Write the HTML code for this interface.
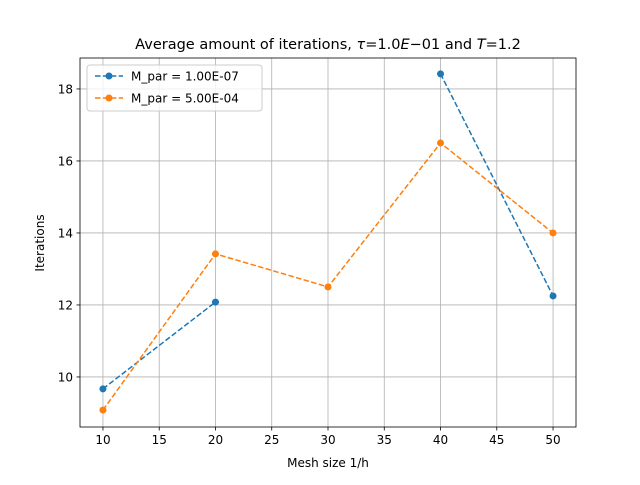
<!DOCTYPE html>
<html><head><meta charset="utf-8"><style>
body{margin:0;background:#fff;font-family:"Liberation Sans","DejaVu Sans",sans-serif;}
svg text{font-family:"DejaVu Sans","Liberation Sans",sans-serif;}
</style></head><body>
<svg id="chart" width="640" height="480" xmlns="http://www.w3.org/2000/svg">
<rect width="640" height="480" fill="#fff"/>
<g id="grid"></g>
<g id="ticks"></g>
<g id="series"></g>
<rect x="80" y="58" width="496" height="369" fill="none" stroke="#000" stroke-width="0.8"/>
<text x="328" y="49" text-anchor="middle" font-size="14.5">Average amount of iterations, <tspan font-style="italic">τ</tspan>=1.0<tspan font-style="italic">E</tspan>−01 and <tspan font-style="italic">T</tspan>=1.2</text>
<text x="328" y="467" text-anchor="middle" font-size="12">Mesh size 1/h</text>
<text transform="translate(44,243) rotate(-90)" text-anchor="middle" font-size="12">Iterations</text>
<g>
<rect x="87" y="65" width="175" height="46" rx="3" fill="#fff" fill-opacity="0.8" stroke="#ccc"/>
<line x1="95" y1="76" x2="123" y2="76" stroke="#1f77b4" stroke-width="1.5" stroke-dasharray="5.5,2.4"/>
<circle cx="109" cy="76" r="3.5" fill="#1f77b4"/>
<text x="131" y="80.5" font-size="12">M_par = 1.00E-07</text>
<line x1="95" y1="98" x2="123" y2="98" stroke="#ff7f0e" stroke-width="1.5" stroke-dasharray="5.5,2.4"/>
<circle cx="109" cy="98" r="3.5" fill="#ff7f0e"/>
<text x="131" y="102.5" font-size="12">M_par = 5.00E-04</text>
</g>
</svg>
<script>
const categories=[10,20,30,40,50];
const seriesA=[9.67,12.08,null,18.42,12.25];
const seriesB=[9.08,13.42,12.5,16.5,14.0];
const xTicks=[10,15,20,25,30,35,40,45,50];
const yTicks=[10,12,14,16,18];
const NS="http://www.w3.org/2000/svg";
const L=80,R=576,T=58,B=427,xmin=7.96,xmax=52.04,ymin=8.61,ymax=18.86;
const X=v=>L+(v-xmin)/(xmax-xmin)*(R-L);
const Y=v=>B-(v-ymin)/(ymax-ymin)*(B-T);
function mk(tag,attrs,parent){const e=document.createElementNS(NS,tag);for(const k in attrs)e.setAttribute(k,attrs[k]);parent.appendChild(e);return e;}
const grid=document.getElementById('grid'),ticks=document.getElementById('ticks'),ser=document.getElementById('series');
xTicks.forEach(t=>{const x=X(t);
mk('line',{x1:x,x2:x,y1:T,y2:B,stroke:'#b0b0b0','stroke-width':0.8},grid);
mk('line',{x1:x,x2:x,y1:B,y2:B+3.5,stroke:'#000','stroke-width':0.8},ticks);
const tx=mk('text',{x:x,y:B+17,'text-anchor':'middle','font-size':12},ticks);tx.textContent=t;

});
yTicks.forEach(t=>{const y=Y(t);
mk('line',{x1:L,x2:R,y1:y,y2:y,stroke:'#b0b0b0','stroke-width':0.8},grid);
mk('line',{x1:L-3.5,x2:L,y1:y,y2:y,stroke:'#000','stroke-width':0.8},ticks);
const tx=mk('text',{x:L-7,y:y+4.5,'text-anchor':'end','font-size':12},ticks);tx.textContent=t;

});
function draw(vals,color,name){
let segs=[],cur=[];
vals.forEach((v,i)=>{if(v==null){if(cur.length)segs.push(cur);cur=[];}else cur.push([X(categories[i]),Y(v)]);});
if(cur.length)segs.push(cur);
segs.forEach(s=>{if(s.length>1){const p=mk('polyline',{points:s.map(q=>q.join(',')).join(' '),fill:'none',stroke:color,'stroke-width':1.5,'stroke-dasharray':'5.5,2.4'},ser);

}});
vals.forEach((v,i)=>{if(v==null)return;const c=mk('circle',{cx:X(categories[i]),cy:Y(v),r:3.5,fill:color},ser);

});
}
draw(seriesA,'#1f77b4','mpar-1e-07');
draw(seriesB,'#ff7f0e','mpar-5e-04');
</script>
</body></html>
